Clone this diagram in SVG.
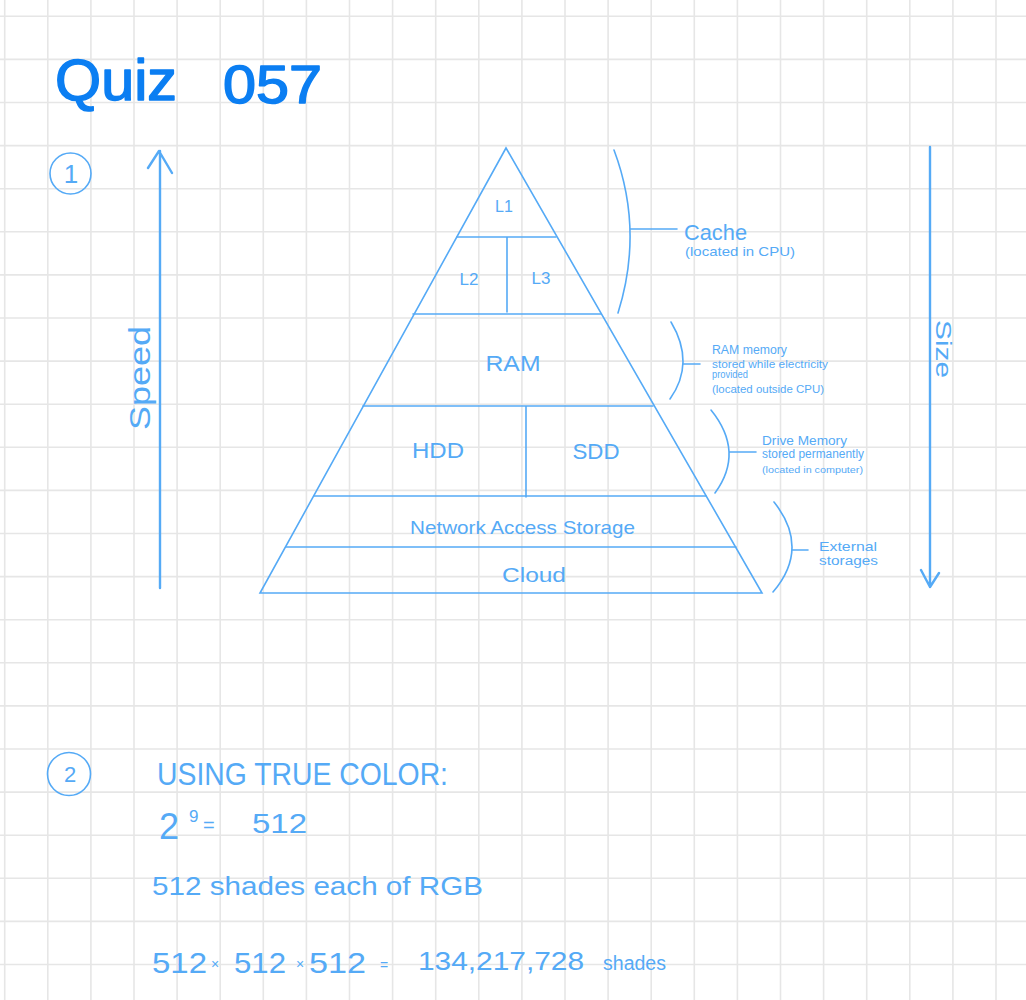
<svg xmlns="http://www.w3.org/2000/svg" width="1026" height="1000" viewBox="0 0 1026 1000">
<defs>
<style>
.grid{stroke:#e6e6e6;stroke-width:1.6;fill:none}
.ln{stroke:#55aaf6;stroke-width:1.6;fill:none;stroke-linecap:round}
.ax{stroke:#55aaf6;stroke-width:2.4;fill:none;stroke-linecap:round;stroke-linejoin:round}
.t{font-family:"Liberation Sans",Arial,sans-serif;fill:#55aaf6}
.title{font-family:"Liberation Sans",Arial,sans-serif;fill:#0b7ef2;stroke:#0b7ef2;stroke-width:1.5;stroke-linejoin:round}
</style>
</defs>
<rect width="1026" height="1000" fill="#ffffff"/>
<path class="grid" d="M4.7 0V1000M47.8 0V1000M90.9 0V1000M134 0V1000M177.1 0V1000M220.2 0V1000M263.3 0V1000M306.4 0V1000M349.5 0V1000M392.6 0V1000M435.7 0V1000M478.8 0V1000M521.9 0V1000M565 0V1000M608.1 0V1000M651.2 0V1000M694.3 0V1000M737.4 0V1000M780.5 0V1000M823.6 0V1000M866.7 0V1000M909.8 0V1000M952.9 0V1000M996 0V1000M0 16.3H1026M0 59.4H1026M0 102.5H1026M0 145.6H1026M0 188.7H1026M0 231.8H1026M0 274.9H1026M0 318H1026M0 361.1H1026M0 404.2H1026M0 447.3H1026M0 490.4H1026M0 533.5H1026M0 576.6H1026M0 619.7H1026M0 662.8H1026M0 705.9H1026M0 749H1026M0 792.1H1026M0 835.2H1026M0 878.3H1026M0 921.4H1026M0 964.5H1026"/>

<g id="title">
<text class="title" x="55" y="100" font-size="58" textLength="122" lengthAdjust="spacingAndGlyphs">Quiz</text>
<text class="title" x="223" y="103" font-size="54" textLength="99" lengthAdjust="spacingAndGlyphs">057</text>
</g>

<g id="q1">
<ellipse class="ln" cx="70.5" cy="173.5" rx="20.5" ry="20.5" stroke-width="2"/>
<text class="t" x="71" y="183" font-size="26" text-anchor="middle">1</text>
</g>

<g id="speed-axis">
<path class="ax" d="M160 588V151M148 168L159 151L172 173"/>
<text class="t" transform="translate(150 378) rotate(-90)" font-size="30" text-anchor="middle" textLength="104" lengthAdjust="spacingAndGlyphs">Speed</text>
</g>

<g id="size-axis">
<path class="ax" d="M930 147V587M921 570L930 587L939 573"/>
<text class="t" transform="translate(936 349) rotate(90)" font-size="22" text-anchor="middle" textLength="58" lengthAdjust="spacingAndGlyphs">Size</text>
</g>

<g id="pyramid">
<g id="outline"><path class="ln" d="M506 148L260 593H762Z"/></g>
<g id="layer-l1">
<text class="t" x="504" y="212" font-size="16" text-anchor="middle">L1</text>
</g>
<g id="layer-l2-l3">
<path class="ln" d="M457 237H556M507 237V312"/>
<text class="t" x="469" y="285" font-size="17" text-anchor="middle">L2</text>
<text class="t" x="541" y="284" font-size="17" text-anchor="middle">L3</text>
</g>
<g id="layer-ram">
<path class="ln" d="M413 314H601"/>
<text class="t" x="513" y="371" font-size="22" text-anchor="middle" textLength="55" lengthAdjust="spacingAndGlyphs">RAM</text>
</g>
<g id="layer-drives">
<path class="ln" d="M363 406H653M526 406V497"/>
<text class="t" x="438" y="458" font-size="22" text-anchor="middle" textLength="52" lengthAdjust="spacingAndGlyphs">HDD</text>
<text class="t" x="596" y="459" font-size="22" text-anchor="middle" textLength="47" lengthAdjust="spacingAndGlyphs">SDD</text>
</g>
<g id="layer-nas">
<path class="ln" d="M314 496H706"/>
<text class="t" x="410" y="534" font-size="19" textLength="225" lengthAdjust="spacingAndGlyphs">Network Access Storage</text>
</g>
<g id="layer-cloud">
<path class="ln" d="M286 547H736"/>
<text class="t" x="534" y="582" font-size="21" text-anchor="middle" textLength="64" lengthAdjust="spacingAndGlyphs">Cloud</text>
</g>
</g>

<g id="connectors">
<path class="ln" d="M614 150Q644 230 618 313M630 229H677"/>
<path class="ln" d="M671 322Q695.5 363 670 399M683 364H700"/>
<path class="ln" d="M711 410Q745 452 715 493M729 452H756"/>
<path class="ln" d="M774 502Q810.5 548 773 592M792 550H808"/>
</g>

<g id="note-cache">
<text class="t" x="684" y="240" font-size="22" textLength="63" lengthAdjust="spacingAndGlyphs">Cache</text>
<text class="t" x="685" y="256" font-size="13" textLength="110" lengthAdjust="spacingAndGlyphs">(located in CPU)</text>
</g>
<g id="note-ram">
<text class="t" x="712" y="354" font-size="12" textLength="75" lengthAdjust="spacingAndGlyphs">RAM memory</text>
<text class="t" x="712" y="368" font-size="11" textLength="116" lengthAdjust="spacingAndGlyphs">stored while electricity</text>
<text class="t" x="712" y="378" font-size="11" textLength="36" lengthAdjust="spacingAndGlyphs">provided</text>
<text class="t" x="712" y="393" font-size="11" textLength="112" lengthAdjust="spacingAndGlyphs">(located outside CPU)</text>
</g>
<g id="note-drive">
<text class="t" x="762" y="445" font-size="13" textLength="85" lengthAdjust="spacingAndGlyphs">Drive Memory</text>
<text class="t" x="762" y="458" font-size="12" textLength="102" lengthAdjust="spacingAndGlyphs">stored permanently</text>
<text class="t" x="762" y="473" font-size="9" textLength="101" lengthAdjust="spacingAndGlyphs">(located in computer)</text>
</g>
<g id="note-external">
<text class="t" x="819" y="551" font-size="13" textLength="58" lengthAdjust="spacingAndGlyphs">External</text>
<text class="t" x="819" y="565" font-size="12" textLength="59" lengthAdjust="spacingAndGlyphs">storages</text>
</g>

<g id="q2">
<ellipse class="ln" cx="69" cy="774" rx="21.5" ry="21.5" stroke-width="2"/>
<text class="t" x="70" y="782" font-size="22" text-anchor="middle">2</text>
</g>
<g id="answer">
<text class="t" x="157" y="785" font-size="31" textLength="291" lengthAdjust="spacingAndGlyphs">USING TRUE COLOR:</text>
<text class="t" x="159" y="839" font-size="36">2</text>
<text class="t" x="189" y="822" font-size="17">9</text>
<text class="t" x="203" y="832" font-size="20">=</text>
<text class="t" x="252" y="833" font-size="28" textLength="55" lengthAdjust="spacingAndGlyphs">512</text>
<text class="t" x="152" y="895" font-size="26" textLength="331" lengthAdjust="spacingAndGlyphs">512 shades each of RGB</text>
<text class="t" x="152" y="973" font-size="30" textLength="55" lengthAdjust="spacingAndGlyphs">512</text>
<text class="t" x="211" y="969" font-size="14">×</text>
<text class="t" x="234" y="973" font-size="30" textLength="52" lengthAdjust="spacingAndGlyphs">512</text>
<text class="t" x="296" y="969" font-size="14">×</text>
<text class="t" x="309" y="973" font-size="30" textLength="57" lengthAdjust="spacingAndGlyphs">512</text>
<text class="t" x="380" y="970" font-size="14">=</text>
<text class="t" x="418" y="970" font-size="26" textLength="166" lengthAdjust="spacingAndGlyphs">134,217,728</text>
<text class="t" x="603" y="970" font-size="20" textLength="63" lengthAdjust="spacingAndGlyphs">shades</text>
</g>
</svg>
